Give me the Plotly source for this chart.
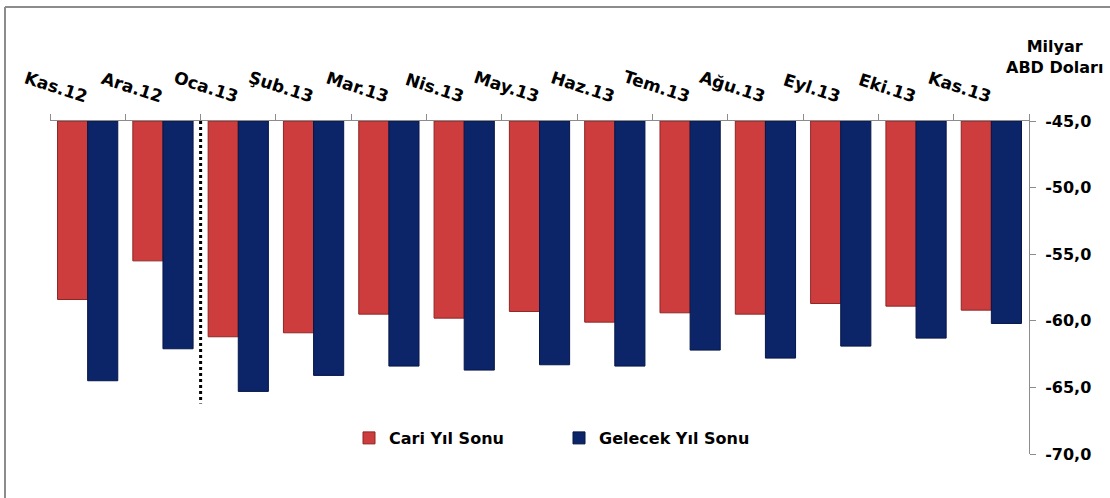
import plotly.graph_objects as go

categories = ["Kas.12", "Ara.12", "Oca.13", "Şub.13", "Mar.13", "Nis.13", "May.13",
              "Haz.13", "Tem.13", "Ağu.13", "Eyl.13", "Eki.13", "Kas.13"]
cari_yil_sonu = [-58.4, -55.5, -61.2, -60.9, -59.5, -59.8, -59.3,
                 -60.1, -59.4, -59.5, -58.7, -58.9, -59.2]
gelecek_yil_sonu = [-64.5, -62.1, -65.3, -64.1, -63.4, -63.7, -63.3,
                    -63.4, -62.2, -62.8, -61.9, -61.3, -60.2]
y_tick_values = [-45, -50, -55, -60, -65, -70]
y_tick_labels = ["-45,0", "-50,0", "-55,0", "-60,0", "-65,0", "-70,0"]
axis_base = -45.0
divider_end = -66.2

FONT = "DejaVu Sans"
W, H = 1110, 498
ML, MR, MT, MB = 50, 81, 121, 44
pw, ph = W - ML - MR, H - MT - MB


def px_x(px):
    return (px - ML) / pw


def px_y(py):
    return (H - MB - py) / ph


fig = go.Figure()
fig.add_trace(go.Bar(
    x=categories, y=[v - axis_base for v in cari_yil_sonu], base=axis_base,
    name="Cari Yıl Sonu",
    marker=dict(color="#CD3D3D", line=dict(color="#8E2626", width=1)),
    customdata=cari_yil_sonu, hovertemplate="%{x}: %{customdata}<extra></extra>",
))
fig.add_trace(go.Bar(
    x=categories, y=[v - axis_base for v in gelecek_yil_sonu], base=axis_base,
    name="Gelecek Yıl Sonu",
    marker=dict(color="#0C2468", line=dict(color="#061647", width=1)),
    customdata=gelecek_yil_sonu, hovertemplate="%{x}: %{customdata}<extra></extra>",
))

# dotted divider between Ara.12 and Oca.13
fig.add_shape(type="line", xref="x", yref="y", x0=1.5, x1=1.5,
              y0=axis_base, y1=divider_end,
              line=dict(color="black", width=3, dash="dot"))

# chart border (top and left visible)
fig.add_shape(type="line", xref="paper", yref="paper",
              x0=px_x(5), x1=px_x(1115), y0=px_y(7), y1=px_y(7),
              line=dict(color="#8C8C8C", width=2))
fig.add_shape(type="line", xref="paper", yref="paper",
              x0=px_x(5), x1=px_x(5), y0=px_y(7), y1=px_y(503),
              line=dict(color="#8C8C8C", width=2))

fig.add_annotation(xref="paper", yref="paper", x=px_x(1054), y=px_y(57),
                   text="Milyar<br>ABD Doları", showarrow=False,
                   align="center", xanchor="center", yanchor="middle",
                   font=dict(family=FONT, size=16, color="black", weight="bold"))

fig.update_layout(
    width=W, height=H,
    margin=dict(l=ML, r=MR, t=MT, b=MB, autoexpand=False),
    paper_bgcolor="white", plot_bgcolor="white",
    barmode="group", bargap=0.2, bargroupgap=0,
    font=dict(family=FONT, color="black"),
    showlegend=True,
    legend=dict(orientation="h", x=px_x(559), y=px_y(438),
                xanchor="center", yanchor="middle",
                font=dict(family=FONT, size=16, color="black", weight="bold"),
                itemwidth=30, entrywidth=165, entrywidthmode="pixels",
                bgcolor="rgba(0,0,0,0)"),
    xaxis=dict(side="top", type="category", tickangle=18,
               tickson="boundaries", ticks="outside", ticklen=6,
               tickcolor="#8C8C8C", showline=True, linecolor="#8C8C8C",
               linewidth=1, showgrid=False, automargin=False,
               tickfont=dict(family=FONT, size=17, color="black", weight="bold"),
               ticklabelstandoff=10),
    yaxis=dict(side="right", range=[-70, -45], tickvals=y_tick_values,
               ticktext=y_tick_labels, ticks="outside", ticklen=6,
               tickcolor="#8C8C8C", showline=True, linecolor="#8C8C8C",
               linewidth=1, showgrid=False, zeroline=False, automargin=False,
               tickfont=dict(family=FONT, size=16, color="black", weight="bold"),
               ticklabelstandoff=6),
)

fig.write_html("out.html",
               config={"displayModeBar": False},
               post_script="document.body.style.margin='0';document.body.style.overflow='hidden';")
